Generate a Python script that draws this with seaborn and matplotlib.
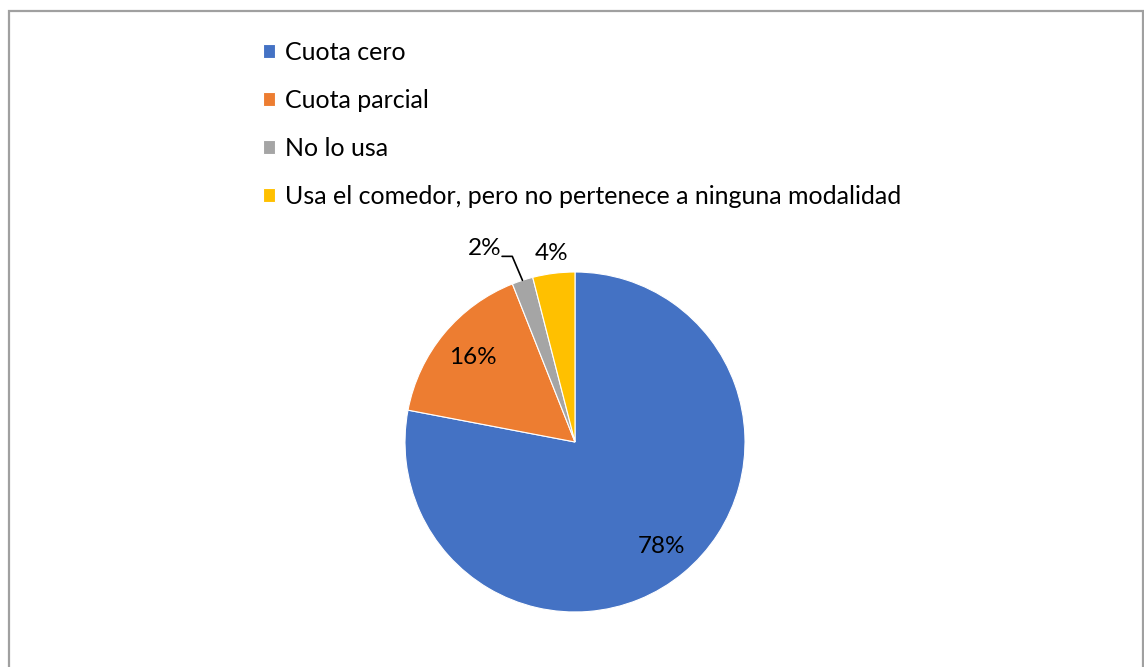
import numpy as np
import seaborn as sns
import matplotlib.pyplot as plt
from matplotlib.patches import Rectangle

categories = ['Cuota cero', 'Cuota parcial', 'No lo usa',
              'Usa el comedor, pero no pertenece a ninguna modalidad']
values = [78, 16, 2, 4]
pct_labels = ['78%', '16%', '2%', '4%']
colors = ['#4472C4', '#ED7D31', '#A5A5A5', '#FFC000']

sns.set_theme(style='white')
plt.rcParams['font.family'] = ['Lato', 'DejaVu Sans']

W, H = 1144, 667
fig = plt.figure(figsize=(W / 100, H / 100), dpi=100)

# pie axes: centre (575, 442) px, radius 170 px
cx, cy, r = 575, 442, 170
ax = fig.add_axes([(cx - r) / W, (H - cy - r) / H, 2 * r / W, 2 * r / H])
wedges, _ = ax.pie(values, colors=colors, startangle=90, counterclock=False,
                   wedgeprops=dict(edgecolor='white', linewidth=0.8))
ax.set_xlim(-1, 1)
ax.set_ylim(-1, 1)
ax.set_aspect('equal')
ax.axis('off')

# percentage labels
dist = [0.8, 0.78, None, 1.12]
for w, lab, d in zip(wedges, pct_labels, dist):
    mid = np.deg2rad((w.theta1 + w.theta2) / 2)
    if d is None:
        # small slice: label outside with a leader line
        ex, ey = np.cos(mid), np.sin(mid)
        x, y = ex - 0.225, ey + 0.185
        ax.plot([x + 0.105, x + 0.165, ex], [y - 0.044, y - 0.044, ey],
                color='black', lw=1.2, clip_on=False)
    else:
        x, y = d * np.cos(mid), d * np.sin(mid)
    ax.text(x, y, lab, ha='center', va='center', fontsize=17.5, color='black',
            clip_on=False)

leg = fig.legend(wedges, categories, loc='upper left',
                 bbox_to_anchor=(240 / W, 1 - 18 / H), frameon=False,
                 fontsize=18, handlelength=0.5, handleheight=0.5,
                 handletextpad=0.4, labelspacing=1.0)
for t in leg.get_texts():
    t.set_color('black')

fig.patches.append(Rectangle((8.5 / W, -0.05), (1142.5 - 8.5) / W, 1 - 10.5 / H + 0.05,
                             transform=fig.transFigure, fill=False,
                             edgecolor='#A0A0A0', linewidth=1.6))

fig.savefig('out.png', dpi=100)
